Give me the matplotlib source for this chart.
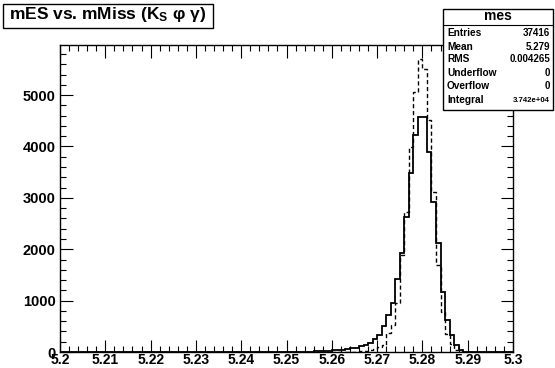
import numpy as np
import matplotlib
matplotlib.use("Agg")
import matplotlib.pyplot as plt
from matplotlib.patches import Rectangle
from matplotlib.ticker import MultipleLocator, FuncFormatter

plt.rcParams['font.family'] = ['Liberation Sans', 'DejaVu Sans']
plt.rcParams['font.weight'] = 'bold'
plt.rcParams['mathtext.fontset'] = 'custom'
plt.rcParams['mathtext.rm'] = 'Liberation Sans:bold'
plt.rcParams['mathtext.it'] = 'Liberation Sans:bold'
plt.rcParams['mathtext.bf'] = 'Liberation Sans:bold'

# ---- Histogram data (100 bins, 5.2 .. 5.3) ----
x_min, x_max, n_bins = 5.2, 5.3, 100

# solid histogram (mes), counts from bin 55 onwards
solid_first_bin = 55
solid_counts = [8, 12, 15, 18, 22, 30, 38, 45, 55, 70, 85,
                110, 140, 180, 247, 331, 506, 720, 959, 1414, 1920,
                2632, 3477, 4222, 4580, 4570, 3897, 2924, 2115, 1173,
                623, 331, 136, 40]

# dashed histogram, counts from bin 66 onwards
dashed_first_bin = 66
dashed_counts = [10, 18, 30, 50, 97, 136, 364, 525, 947, 1890,
                 2730, 3994, 5064, 5694, 5500, 4514, 3113, 1690, 784,
                 344, 150, 40]

stats_labels = ["Entries", "Mean", "RMS", "Underflow", "Overflow", "Integral"]
stats_values = ["37416", "5.279", "0.004265", "0", "0", "3.742e+04"]

edges = np.linspace(x_min, x_max, n_bins + 1)
solid = np.zeros(n_bins)
solid[solid_first_bin:solid_first_bin + len(solid_counts)] = solid_counts
dashed = np.zeros(n_bins)
dashed[dashed_first_bin:dashed_first_bin + len(dashed_counts)] = dashed_counts

W, H = 555, 368
fig = plt.figure(figsize=(W / 100, H / 100), dpi=100)
fig.patch.set_facecolor('white')

# frame position in pixels: left 60, right 513, top 45, bottom 352
ax = fig.add_axes([60 / W, (H - 352) / H, 453 / W, 307 / H])
ax.stairs(solid, edges, color='black', linewidth=1.3)
ax.stairs(dashed, edges, color='black', linewidth=1.0, linestyle=(0, (3, 2)))

ax.set_xlim(x_min, x_max)
ax.set_ylim(0, 5975)

ax.xaxis.set_major_locator(MultipleLocator(0.01))
ax.xaxis.set_minor_locator(MultipleLocator(0.002))
ax.yaxis.set_major_locator(MultipleLocator(1000))
ax.yaxis.set_minor_locator(MultipleLocator(200))
ax.xaxis.set_major_formatter(FuncFormatter(lambda v, p: f"{round(v, 3):g}"))
ax.yaxis.set_major_formatter(FuncFormatter(lambda v, p: f"{int(round(v))}"))

ax.tick_params(which='both', direction='in', top=True, right=True,
               width=0.8, colors='black')
ax.tick_params(axis='x', labelsize=10, pad=1)
ax.tick_params(axis='y', labelsize=10.5, pad=3)
ax.tick_params(which='major', length=9)
ax.tick_params(which='minor', length=4.5)
for lab in ax.get_xticklabels() + ax.get_yticklabels():
    lab.set_fontweight('bold')
for sp in ax.spines.values():
    sp.set_linewidth(1.0)


def px(x, y):
    return x / W, 1 - y / H


# ---- Title box ----
fig.patches.append(Rectangle(px(3, 28), 210 / W, 24 / H, transform=fig.transFigure,
                             fill=False, edgecolor='black', linewidth=1.0))
fig.text(*px(108, 15), r"mES vs. mMiss (K$_\mathrm{S}$ φ γ)", ha='center', va='center',
         fontsize=12.5, fontweight='bold')

# ---- Stats box ----
fig.patches.append(Rectangle(px(443, 110), 110 / W, 101 / H, transform=fig.transFigure,
                             facecolor='white', edgecolor='black', linewidth=1.0, zorder=5))
fig.add_artist(plt.Line2D([443 / W, 553 / W], [1 - 25 / H, 1 - 25 / H],
                          transform=fig.transFigure, color='black', linewidth=0.8, zorder=6))
fig.text(*px(498, 16), "mes", ha='center', va='center', fontsize=10, fontweight='bold', zorder=7)
row_y = [33, 46.5, 59.5, 73, 86, 100]
for lab, val, yy in zip(stats_labels, stats_values, row_y):
    fig.text(*px(447, yy), lab, ha='left', va='center', fontsize=7.3, fontweight='bold', zorder=7)
    fs = 5.6 if len(val) > 8 else 7.0
    fig.text(*px(550, yy), val, ha='right', va='center', fontsize=fs, fontweight='bold', zorder=7)

fig.savefig("out.png", dpi=100)
